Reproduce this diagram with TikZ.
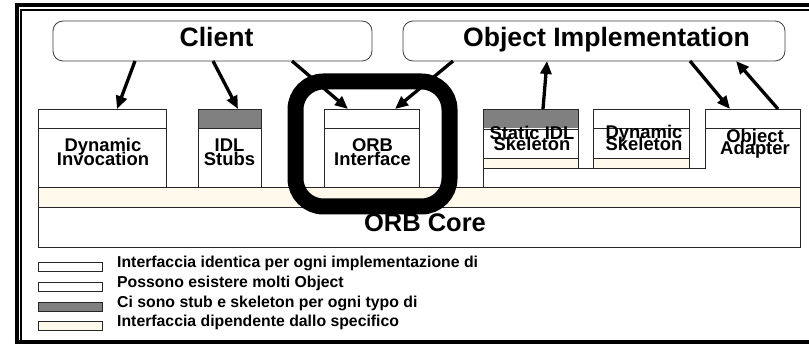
\documentclass[tikz,border=0pt]{standalone}
\usepackage{fontspec}
\setmainfont{Liberation Sans}
\usetikzlibrary{arrows.meta,calc}
\definecolor{cream}{RGB}{255,249,236}
\definecolor{hdr}{RGB}{128,128,128}
\begin{document}
\begin{tikzpicture}[x=1pt,y=-1pt,
  box/.style={draw=black!85, line width=0.9pt, fill=white, inner sep=0pt, outer sep=0pt, anchor=north west},
  hbox/.style={box, path picture={\fill[#1] (path picture bounding box.north west) rectangle ([yshift=-19.5pt]path picture bounding box.north east);}},
  sbox/.style={box, path picture={\fill[#1] (path picture bounding box.north west) rectangle ([yshift=-19.5pt]path picture bounding box.north east);
      \fill[cream] ([yshift=10pt]path picture bounding box.south west) rectangle (path picture bounding box.south east);}},
  sep/.style={draw=black!85, line width=0.9pt},
  topbox/.style={draw=black!75, line width=0.8pt, fill=white, rounded corners=10pt, inner sep=0pt, outer sep=0pt, anchor=north west},
  big/.style={font=\fontsize{26.6}{26.6}\selectfont\bfseries, inner sep=0pt, anchor=base},
  lbl/.style={font=\fontsize{18.4}{18.4}\selectfont\bfseries, inner sep=0pt, anchor=base},
  leg/.style={font=\fontsize{15.8}{15.8}\selectfont\bfseries, inner sep=0pt, anchor=base west},
  legbox/.style={draw=black!85, line width=0.8pt, inner sep=0pt, outer sep=0pt, minimum width=64pt, minimum height=9pt, anchor=north west},
  arr/.style={line width=3.3pt, -{Triangle[length=13pt,width=11pt]}},
  ring/.style={draw=black, line width=16pt, rounded corners=28pt, inner sep=0pt, outer sep=0pt, anchor=north west}
]
\useasboundingbox (0,0) rectangle (809,344);
\fill[white] (0,0) rectangle (809,344);

% frame
\draw[line width=3.8pt] (16.8,350) -- (16.8,5.3) -- (815,5.3);
\draw[line width=4.5pt] (14.9,341.8) -- (815,341.8);
\draw[line width=1.5pt] (21.2,340) -- (21.2,9.8) -- (815,9.8);

% top boxes
\node[topbox, minimum width=319pt, minimum height=40pt] (client) at (53,21) {};
\node[big] (clienttxt) at (216.5,47) {Client};
\node[topbox, minimum width=382pt, minimum height=40pt] (objimpl) at (403,21) {};
\node[big] (objimpltxt) at (606.5,47) {Object Implementation};

% object adapter (L shape)
\node[inner sep=0pt, outer sep=0pt, minimum width=95pt, minimum height=78pt, anchor=north west] (oa) at (705,109) {};
\filldraw[fill=white, draw=black!85, line width=0.9pt] (483,187) -- (483,168) -- (oa.west |- 0,168) -- (oa.north west) -- (oa.north east) -- (oa.south east);
\draw[sep] ([yshift=-19pt]oa.north west) -- ([yshift=-19pt]oa.north east);

% ORB core
\node[box, minimum width=762pt, minimum height=60pt,
  path picture={\fill[cream] (path picture bounding box.north west) rectangle ([yshift=-20pt]path picture bounding box.north east);}] (core) at (38,187) {};
\draw[sep] ([yshift=-20pt]core.north west) -- ([yshift=-20pt]core.north east);
\node[font=\fontsize{25.5}{25.5}\selectfont\bfseries, inner sep=0pt, anchor=base] (coretxt) at (425,232) {ORB Core};

% client side boxes
\node[hbox=white, minimum width=128pt, minimum height=78pt] (dyninv) at (38,109) {};
\draw[sep] ([yshift=-19pt]dyninv.north west) -- ([yshift=-19pt]dyninv.north east);
\node[hbox=hdr, minimum width=63pt, minimum height=78pt] (idl) at (198,109) {};
\draw[sep] ([yshift=-19pt]idl.north west) -- ([yshift=-19pt]idl.north east);
\node[hbox=white, minimum width=95pt, minimum height=78pt] (orbint) at (324,109) {};
\draw[sep] ([yshift=-19pt]orbint.north west) -- ([yshift=-19pt]orbint.north east);

% skeletons
\node[sbox=hdr, minimum width=95pt, minimum height=59pt] (sis) at (483,109) {};
\draw[sep] ([yshift=-20pt]sis.north west) -- ([yshift=-20pt]sis.north east);
\draw[sep] ([yshift=10pt]sis.south west) -- ([yshift=10pt]sis.south east);
\node[sbox=white, minimum width=96pt, minimum height=59pt] (dsk) at (593,109) {};
\draw[sep] ([yshift=-19pt]dsk.north west) -- ([yshift=-19pt]dsk.north east);
\draw[sep] ([yshift=10pt]dsk.south west) -- ([yshift=10pt]dsk.south east);

% labels
\node[lbl] (di1) at (103,152) {Dynamic};
\node[lbl] (di2) at (103,166) {Invocation};
\node[lbl] (idl1) at (229.5,152) {IDL};
\node[lbl] (idl2) at (229.5,166) {Stubs};
\node[lbl] (oi1) at (372.5,152) {ORB};
\node[lbl] (oi2) at (372.5,166) {Interface};
\node[lbl] (sis1) at (532,139.5) {Static IDL};
\node[lbl] (sis2) at (532,151) {Skeleton};
\node[lbl] (dsk1) at (644,139) {Dynamic};
\node[lbl] (dsk2) at (644,151) {Skeleton};
\node[lbl] (oa1) at (755,143) {Object};
\node[lbl] (oa2) at (755,155) {Adapter};

% arrows
\draw[arr] ([xshift=82pt]client.south west) -- ([xshift=79pt]dyninv.north west);
\draw[arr] ([xshift=160pt]client.south west) -- ([xshift=40pt]idl.north west);
\draw[arr] ([xshift=239pt]client.south west) -- ([xshift=24pt]orbint.north west);
\draw[arr] ([xshift=50pt]objimpl.south west) -- ([xshift=71pt]orbint.north west);
\draw[arr] ([xshift=60pt]sis.north west) -- ([xshift=144pt]objimpl.south west);
\draw[arr] ([xshift=287pt]objimpl.south west) -- ([xshift=25pt]oa.north west);
\draw[arr] ([xshift=73pt]oa.north west) -- ([xshift=333pt]objimpl.south west);

% highlight ring
\node[ring, minimum width=154pt, minimum height=125pt] (focus) at (295.5,81.5) {};

% legend
\node[legbox, fill=white] (lg1) at (38,262) {};
\node[legbox, fill=white] (lg2) at (38,282) {};
\node[legbox, fill=hdr] (lg3) at (38,302) {};
\node[legbox, fill=cream] (lg4) at (38,321) {};
\node[leg] (lt1) at (117,268) {Interfaccia identica per ogni implementazione di};
\node[leg] (lt2) at (117,288) {Possono esistere molti Object};
\node[leg] (lt3) at (117,308) {Ci sono stub e skeleton per ogni typo di};
\node[leg] (lt4) at (117,327) {Interfaccia dipendente dallo specifico};
\end{tikzpicture}
\end{document}
